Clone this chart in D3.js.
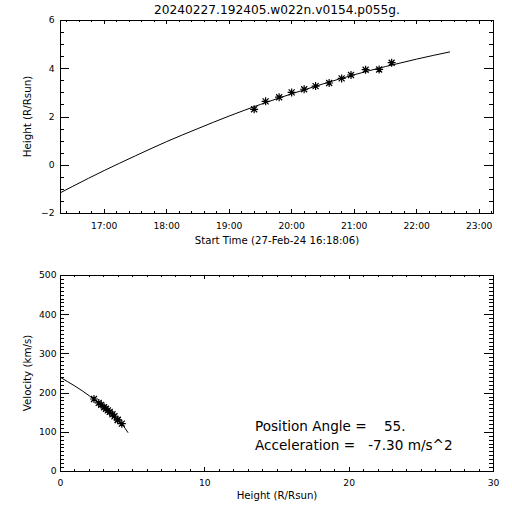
<!DOCTYPE html>
<html>
<head>
<meta charset="utf-8">
<script src="https://cdn.jsdelivr.net/npm/d3@7"></script>
<style>
  html, body { margin: 0; padding: 0; background: #fff; }
  svg { display: block; }
  text { font-family: "DejaVu Sans", sans-serif; fill: #000; }
</style>
</head>
<body>
<script>
// ---------- data ----------
const titleText = "20240227.192405.w022n.v0154.p055g.";
const startTimeLabel = "Start Time (27-Feb-24 16:18:06)";
const timeAxisRange = ["16:18:06", "23:13:47"];

// observed height-time points (asterisks)
const obsTimes   = ["19:24", "19:35", "19:48", "20:00", "20:12", "20:23", "20:36", "20:48", "20:57", "21:11", "21:24", "21:36"];
const obsHeights = [2.32, 2.65, 2.82, 3.02, 3.15, 3.28, 3.41, 3.60, 3.74, 3.96, 3.97, 4.25];

// fitted height-time curve
const fitTimes   = ["16:18", "16:30", "17:00", "17:30", "18:00", "18:30", "19:00", "19:30", "20:00", "20:30", "21:00", "21:30", "22:00", "22:32"];
const fitHeights = [-1.14, -0.87, -0.22, 0.39, 0.98, 1.52, 2.04, 2.52, 2.96, 3.37, 3.75, 4.09, 4.40, 4.70];

// velocity vs height: points and fitted line
const velPointVelocities = [185, 175, 170, 164, 160, 156, 152, 146, 141, 132, 131, 122];
const velLineHeights = [0, 0.5, 1, 1.5, 2, 2.5, 3, 3.5, 4, 4.5, 4.68];
const velLineValues  = [240, 229, 218, 206, 193, 179, 165, 148, 130, 109, 99];

const hTicks = [-2, 0, 2, 4, 6];
const vTicks = [0, 100, 200, 300, 400, 500];
const hxTicks = [0, 10, 20, 30];

const annotation1 = "Position Angle =    55.";
const annotation2 = "Acceleration =   -7.30 m/s^2";

// ---------- helpers ----------
function toDate(s) {
  const p = s.split(":").map(Number);
  return new Date(Date.UTC(2024, 1, 27, p[0], p[1], p[2] || 0));
}

const svg = d3.select("body").append("svg")
  .attr("width", 512).attr("height", 512);
svg.append("rect").attr("width", 512).attr("height", 512).attr("fill", "#fff");

const L = 60, R = 493;
const T1 = 20, B1 = 213;
const T2 = 275, B2 = 471;

const starPath = "M-4,0H4M0,-4V4M-3,-3L3,3M-3,3L3,-3";

function styleAxis(g, size) {
  g.select(".domain").remove();
  g.attr("font-family", "DejaVu Sans, sans-serif").attr("font-size", size);
  g.selectAll("line").attr("stroke", "#000").attr("shape-rendering", "crispEdges");
  g.selectAll("text").attr("fill", "#000");
}

function frame(top, bottom) {
  svg.append("rect")
    .attr("x", L + 0.5).attr("y", top + 0.5)
    .attr("width", R - L).attr("height", bottom - top)
    .attr("fill", "none").attr("stroke", "#000").attr("stroke-width", 1)
    .attr("shape-rendering", "crispEdges");
}

// ---------- top panel: height vs time ----------
const xT = d3.scaleUtc().domain(timeAxisRange.map(toDate)).range([L, R]);
const yT = d3.scaleLinear().domain([-2, 6]).range([B1, T1]);

// major/minor x ticks bottom
svg.append("g").attr("transform", `translate(0,${B1})`)
  .call(d3.axisBottom(xT).ticks(d3.utcHour.every(1)).tickFormat(d3.utcFormat("%H:%M"))
    .tickSizeInner(-4).tickSizeOuter(0).tickPadding(9))
  .call(g => styleAxis(g, 9.2));
svg.append("g").attr("transform", `translate(0,${B1})`)
  .call(d3.axisBottom(xT).ticks(d3.utcMinute.every(12)).tickFormat("").tickSizeInner(-2).tickSizeOuter(0))
  .call(g => styleAxis(g, 9.2));
// top mirrored
svg.append("g").attr("transform", `translate(0,${T1})`)
  .call(d3.axisTop(xT).ticks(d3.utcHour.every(1)).tickFormat("").tickSizeInner(-4).tickSizeOuter(0))
  .call(g => styleAxis(g, 9.2));
svg.append("g").attr("transform", `translate(0,${T1})`)
  .call(d3.axisTop(xT).ticks(d3.utcMinute.every(12)).tickFormat("").tickSizeInner(-2).tickSizeOuter(0))
  .call(g => styleAxis(g, 9.2));
// y left
svg.append("g").attr("transform", `translate(${L},0)`)
  .call(d3.axisLeft(yT).tickValues(hTicks).tickFormat(d3.format("d")).tickSizeInner(-8.7).tickSizeOuter(0).tickPadding(5.5))
  .call(g => styleAxis(g, 9.2));
svg.append("g").attr("transform", `translate(${L},0)`)
  .call(d3.axisLeft(yT).tickValues(d3.range(-2, 6.01, 0.5)).tickFormat("").tickSizeInner(-4.3).tickSizeOuter(0))
  .call(g => styleAxis(g, 9.2));
// y right
svg.append("g").attr("transform", `translate(${R},0)`)
  .call(d3.axisRight(yT).tickValues(hTicks).tickFormat("").tickSizeInner(-8.7).tickSizeOuter(0))
  .call(g => styleAxis(g, 9.2));
svg.append("g").attr("transform", `translate(${R},0)`)
  .call(d3.axisRight(yT).tickValues(d3.range(-2, 6.01, 0.5)).tickFormat("").tickSizeInner(-4.3).tickSizeOuter(0))
  .call(g => styleAxis(g, 9.2));

frame(T1, B1);

const fitData = fitTimes.map((t, i) => [toDate(t), fitHeights[i]]);
svg.append("path")
  .datum(fitData)
  .attr("fill", "none").attr("stroke", "#000").attr("stroke-width", 1)
  .attr("d", d3.line().x(d => xT(d[0]) + 0.5).y(d => yT(d[1]) + 0.5).curve(d3.curveMonotoneX));

const obsData = obsTimes.map((t, i) => [toDate(t), obsHeights[i]]);
svg.append("g").selectAll("path").data(obsData).join("path")
  .attr("transform", d => `translate(${xT(d[0]) + 0.5},${yT(d[1]) + 0.5})`)
  .attr("d", starPath).attr("stroke", "#000").attr("stroke-width", 1.2).attr("fill", "none");

svg.append("text").attr("x", (L + R) / 2 + 0.5).attr("y", 14)
  .attr("text-anchor", "middle").attr("font-size", 12.2).text(titleText);
svg.append("text").attr("x", (L + R) / 2 + 0.5).attr("y", 244)
  .attr("text-anchor", "middle").attr("font-size", 10.2).text(startTimeLabel);
svg.append("text").attr("transform", `translate(31,${(T1 + B1) / 2}) rotate(-90)`)
  .attr("text-anchor", "middle").attr("font-size", 10.3).text("Height (R/Rsun)");

// ---------- bottom panel: velocity vs height ----------
const xB = d3.scaleLinear().domain([0, 30]).range([L, R]);
const yB = d3.scaleLinear().domain([0, 500]).range([B2, T2]);

svg.append("g").attr("transform", `translate(0,${B2})`)
  .call(d3.axisBottom(xB).tickValues(hxTicks).tickFormat(d3.format("d")).tickSizeInner(-4).tickSizeOuter(0).tickPadding(8))
  .call(g => styleAxis(g, 9.2));
svg.append("g").attr("transform", `translate(0,${B2})`)
  .call(d3.axisBottom(xB).tickValues(d3.range(0, 31, 1)).tickFormat("").tickSizeInner(-2).tickSizeOuter(0))
  .call(g => styleAxis(g, 9.2));
svg.append("g").attr("transform", `translate(0,${T2})`)
  .call(d3.axisTop(xB).tickValues(hxTicks).tickFormat("").tickSizeInner(-4).tickSizeOuter(0))
  .call(g => styleAxis(g, 9.2));
svg.append("g").attr("transform", `translate(0,${T2})`)
  .call(d3.axisTop(xB).tickValues(d3.range(0, 31, 1)).tickFormat("").tickSizeInner(-2).tickSizeOuter(0))
  .call(g => styleAxis(g, 9.2));
svg.append("g").attr("transform", `translate(${L},0)`)
  .call(d3.axisLeft(yB).tickValues(vTicks).tickFormat(d3.format("d")).tickSizeInner(-8.7).tickSizeOuter(0).tickPadding(3.5))
  .call(g => styleAxis(g, 9.2));
svg.append("g").attr("transform", `translate(${L},0)`)
  .call(d3.axisLeft(yB).tickValues(d3.range(0, 501, 10)).tickFormat("").tickSizeInner(-4.3).tickSizeOuter(0))
  .call(g => styleAxis(g, 9.2));
svg.append("g").attr("transform", `translate(${R},0)`)
  .call(d3.axisRight(yB).tickValues(vTicks).tickFormat("").tickSizeInner(-8.7).tickSizeOuter(0))
  .call(g => styleAxis(g, 9.2));
svg.append("g").attr("transform", `translate(${R},0)`)
  .call(d3.axisRight(yB).tickValues(d3.range(0, 501, 10)).tickFormat("").tickSizeInner(-4.3).tickSizeOuter(0))
  .call(g => styleAxis(g, 9.2));

frame(T2, B2);

const velLine = velLineHeights.map((h, i) => [h, velLineValues[i]]);
svg.append("path")
  .datum(velLine)
  .attr("fill", "none").attr("stroke", "#000").attr("stroke-width", 1)
  .attr("d", d3.line().x(d => xB(d[0]) + 0.5).y(d => yB(d[1]) + 0.5).curve(d3.curveMonotoneX));

const velPts = obsHeights.map((h, i) => [h, velPointVelocities[i]]);
svg.append("g").selectAll("path").data(velPts).join("path")
  .attr("transform", d => `translate(${xB(d[0]) + 0.5},${yB(d[1]) + 0.5})`)
  .attr("d", starPath).attr("stroke", "#000").attr("stroke-width", 1.2).attr("fill", "none");

svg.append("text").attr("x", (L + R) / 2 + 0.5).attr("y", 499)
  .attr("text-anchor", "middle").attr("font-size", 10.2).text("Height (R/Rsun)");
svg.append("text").attr("transform", `translate(31,${(T2 + B2) / 2}) rotate(-90)`)
  .attr("text-anchor", "middle").attr("font-size", 10.3).text("Velocity (km/s)");

svg.append("text").attr("x", 255).attr("y", 430.5).attr("font-size", 13.6)
  .style("white-space", "pre").text(annotation1);
svg.append("text").attr("x", 255).attr("y", 450).attr("font-size", 13.6)
  .style("white-space", "pre").text(annotation2);
</script>
</body>
</html>
